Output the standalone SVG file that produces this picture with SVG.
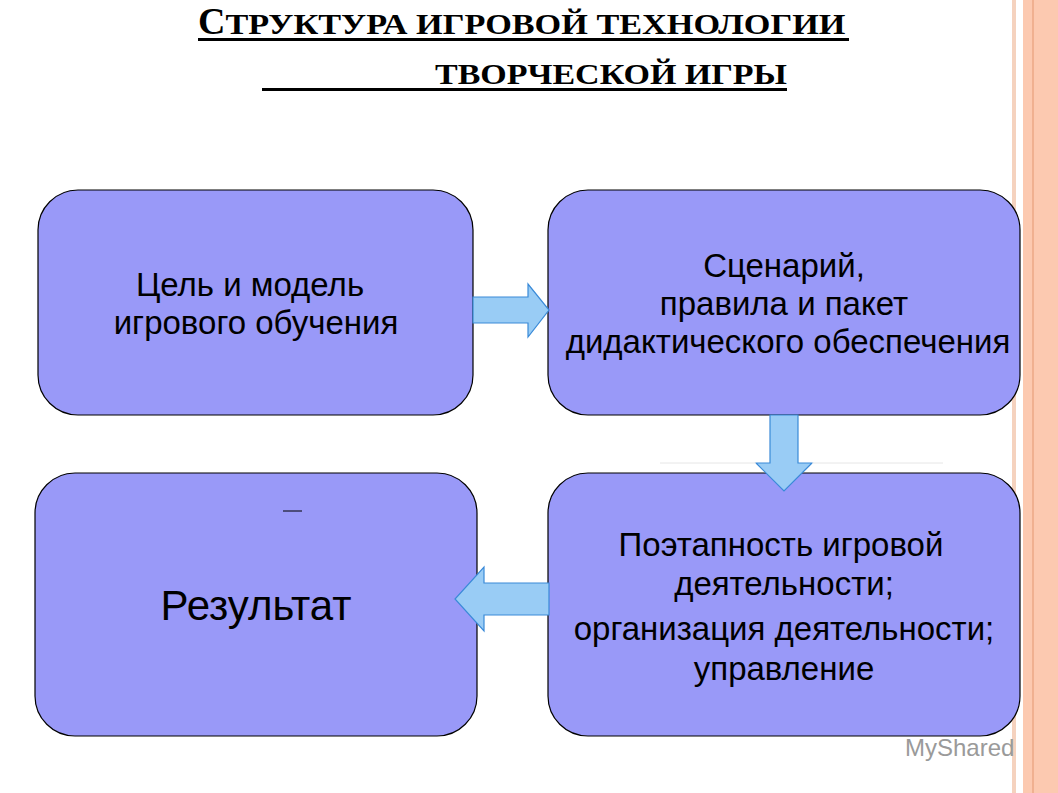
<svg xmlns="http://www.w3.org/2000/svg" width="1058" height="793" viewBox="0 0 1058 793">
<style>
.box{fill:#9999f8;stroke:#000;stroke-width:1.2}
.arr{fill:#99ccf5;stroke:#3a8ad8;stroke-width:1.2}
.t{font-family:"Liberation Sans",Arial,sans-serif;font-size:33px;fill:#000;text-anchor:middle}
.h{font-family:"Liberation Serif","Times New Roman",serif;font-weight:bold;fill:#000}
</style>
<rect width="1058" height="793" fill="#fff"/>
<rect x="1012" y="0" width="4" height="793" fill="#f5d2be"/>
<rect x="1023" y="0" width="35" height="793" fill="#fcc9b0"/>
<rect x="1032" y="0" width="2" height="793" fill="#f0b090"/>
<g id="title">
<text class="h" x="198" y="34" style="font-size:38px">С<tspan style="font-size:30px" textLength="620" lengthAdjust="spacingAndGlyphs">ТРУКТУРА ИГРОВОЙ ТЕХНОЛОГИИ</tspan></text>
<rect x="198" y="38" width="651" height="3"/>
<text class="h" x="435" y="84" style="font-size:30px" textLength="352" lengthAdjust="spacingAndGlyphs">ТВОРЧЕСКОЙ ИГРЫ</text>
<rect x="262" y="88" width="525" height="3"/>
</g>
<g id="n1"><rect class="box" x="38" y="190" width="435" height="225" rx="40"/>
<text class="t" x="250" y="296">Цель и модель</text><text class="t" x="256" y="334">игрового обучения</text></g>
<g id="n2"><rect class="box" x="548" y="190" width="472" height="225" rx="40"/>
<text class="t" x="784" y="277">Сценарий,</text><text class="t" x="784" y="315">правила и пакет</text><text class="t" x="788" y="353">дидактического обеспечения</text></g>
<g id="n3"><rect class="box" x="548" y="473" width="472" height="263" rx="40"/>
<text class="t" x="781" y="556">Поэтапность игровой</text><text class="t" x="784" y="595">деятельности;</text><text class="t" x="784" y="640">организация деятельности;</text><text class="t" x="784" y="680">управление</text></g>
<g id="n4"><rect class="box" x="35" y="473" width="442" height="263" rx="40"/>
<line x1="283" y1="511" x2="302" y2="511" stroke="#000" stroke-width="1"/>
<text class="t" x="256" y="620" style="font-size:42px">Результат</text></g>
<g id="connectors">
<path class="arr" d="M473,297 H528 V284 L549,310 L528,337 V323 H473 Z"/>
<path class="arr" d="M770,415 H798 V463 H812 L784,491 L756,463 H770 Z"/>
<path class="arr" d="M549,583 H484 V567 L455,599 L484,631 V615 H549 Z"/>
<line x1="660" y1="463" x2="756" y2="463" stroke="#e6e6e6"/>
<line x1="812" y1="463" x2="943" y2="463" stroke="#e6e6e6"/>
</g>
<text x="905" y="756" font-family="Liberation Sans,Arial,sans-serif" font-size="24" fill="#9a9a9a">MyShared</text>
</svg>
